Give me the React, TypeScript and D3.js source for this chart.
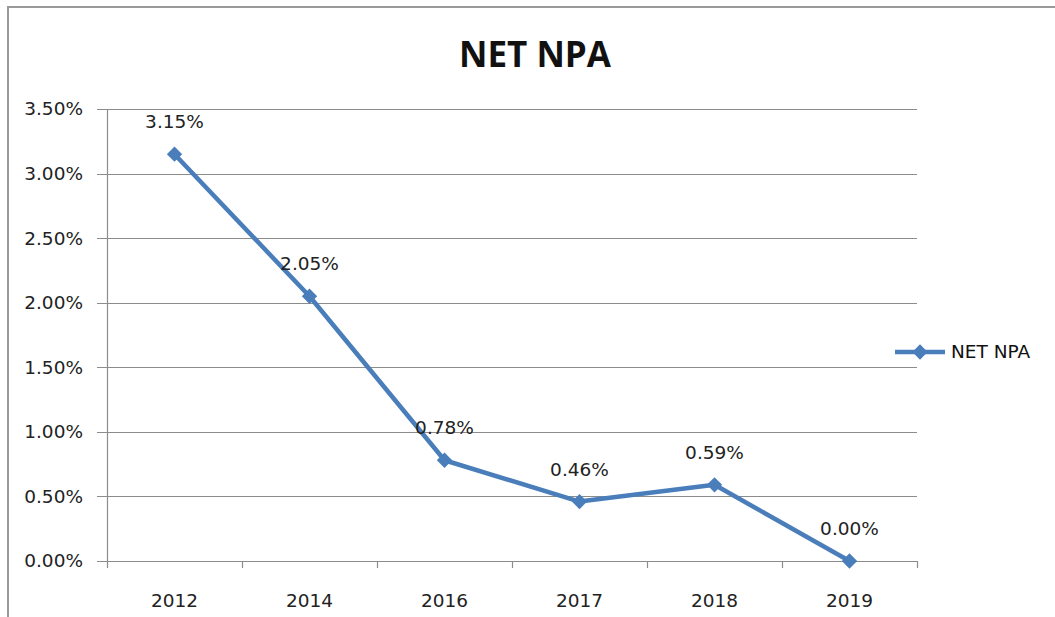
import { useEffect, useRef } from "react";
import * as d3 from "d3";

const years = ["2012", "2014", "2016", "2017", "2018", "2019"];
const netNpa = [3.15, 2.05, 0.78, 0.46, 0.59, 0.0];
const yTicks = [0, 0.5, 1, 1.5, 2, 2.5, 3, 3.5];

const W = 1055;
const H = 617;
const margin = { left: 107, right: 138, top: 109, bottom: 56 };
const lineColor = "#4a7ebb";
const gridColor = "#8c8c8c";
const font = "'DejaVu Sans', Verdana, sans-serif";
const titleFont = "'Open Sans', 'Liberation Sans', sans-serif";

export default function App() {
  const svgRef = useRef<SVGSVGElement>(null);

  useEffect(() => {
    const svg = d3.select(svgRef.current);
    svg.selectAll("*").remove();

    const boundsW = W - margin.left - margin.right;
    const boundsH = H - margin.top - margin.bottom;

    // chart frame (runs past right and bottom edges)
    svg
      .append("rect")
      .attr("x", 8)
      .attr("y", 7)
      .attr("width", W + 20)
      .attr("height", H + 20)
      .attr("fill", "white")
      .attr("stroke", "#999")
      .attr("stroke-width", 2);

    svg
      .append("text")
      .attr("x", 535)
      .attr("y", 67)
      .attr("text-anchor", "middle")
      .style("font-family", titleFont)
      .style("font-weight", "bold")
      .style("font-size", "35px")
      .attr("fill", "#111")
      .text("NET NPA");

    const x = d3.scaleBand().domain(years).range([0, boundsW]);
    const y = d3.scaleLinear().domain([0, 3.5]).range([boundsH, 0]);

    const g = svg
      .append("g")
      .attr("transform", `translate(${margin.left},${margin.top})`);

    // horizontal grid + y ticks
    g.append("g")
      .selectAll("line")
      .data(yTicks)
      .enter()
      .append("line")
      .attr("x1", -10)
      .attr("x2", boundsW)
      .attr("y1", (d) => Math.round(y(d)) + 0.5)
      .attr("y2", (d) => Math.round(y(d)) + 0.5)
      .attr("stroke", gridColor)
      .attr("stroke-width", 1.2);

    g.append("g")
      .selectAll("text")
      .data(yTicks)
      .enter()
      .append("text")
      .attr("x", -24)
      .attr("y", (d) => y(d))
      .attr("dy", "0.35em")
      .attr("text-anchor", "end")
      .style("font-family", font)
      .style("font-size", "18.5px")
      .attr("fill", "#222")
      .text((d) => d.toFixed(2) + "%");

    // y axis line
    g.append("line")
      .attr("x1", 0.5)
      .attr("x2", 0.5)
      .attr("y1", 0)
      .attr("y2", boundsH)
      .attr("stroke", gridColor)
      .attr("stroke-width", 1.2);

    // x category ticks
    const bounds = years.map((d) => x(d) as number).concat([boundsW]);
    g.append("g")
      .selectAll("line")
      .data(bounds)
      .enter()
      .append("line")
      .attr("x1", (d) => Math.round(d) + 0.5)
      .attr("x2", (d) => Math.round(d) + 0.5)
      .attr("y1", boundsH)
      .attr("y2", boundsH + 7)
      .attr("stroke", gridColor)
      .attr("stroke-width", 1.2);

    g.append("g")
      .selectAll("text")
      .data(years)
      .enter()
      .append("text")
      .attr("x", (d) => (x(d) as number) + x.bandwidth() / 2)
      .attr("y", boundsH + 46)
      .attr("text-anchor", "middle")
      .style("font-family", font)
      .style("font-size", "18.5px")
      .attr("fill", "#222")
      .text((d) => d);

    const pts = years.map((yr, i) => ({ yr, v: netNpa[i] }));
    const cx = (d: { yr: string }) => (x(d.yr) as number) + x.bandwidth() / 2;

    const line = d3
      .line<{ yr: string; v: number }>()
      .x(cx)
      .y((d) => y(d.v));

    g.append("path")
      .datum(pts)
      .attr("fill", "none")
      .attr("stroke", lineColor)
      .attr("stroke-width", 4.5)
      .attr("stroke-linejoin", "round")
      .attr("d", line);

    const diamond = d3.symbol().type(d3.symbolDiamond2).size(150);

    g.append("g")
      .selectAll("path")
      .data(pts)
      .enter()
      .append("path")
      .attr("d", diamond)
      .attr("transform", (d) => `translate(${cx(d)},${y(d.v)})`)
      .attr("fill", lineColor);

    g.append("g")
      .selectAll("text")
      .data(pts)
      .enter()
      .append("text")
      .attr("x", cx)
      .attr("y", (d) => y(d.v) - 26)
      .attr("text-anchor", "middle")
      .style("font-family", font)
      .style("font-size", "18.5px")
      .attr("fill", "#222")
      .text((d) => d.v.toFixed(2) + "%");

    // legend
    const lg = svg.append("g").attr("transform", "translate(895,352)");
    lg.append("line")
      .attr("x1", 0)
      .attr("x2", 50)
      .attr("stroke", lineColor)
      .attr("stroke-width", 4.5);
    lg.append("path")
      .attr("d", diamond)
      .attr("transform", "translate(25,0)")
      .attr("fill", lineColor);
    lg.append("text")
      .attr("x", 56)
      .attr("dy", "0.35em")
      .style("font-family", font)
      .style("font-size", "18.5px")
      .attr("fill", "#111")
      .text("NET NPA");
  }, []);

  return (
    <svg
      ref={svgRef}
      width={W}
      height={H}
      style={{ position: "absolute", left: 0, top: 0 }}
    ></svg>
  );
}
